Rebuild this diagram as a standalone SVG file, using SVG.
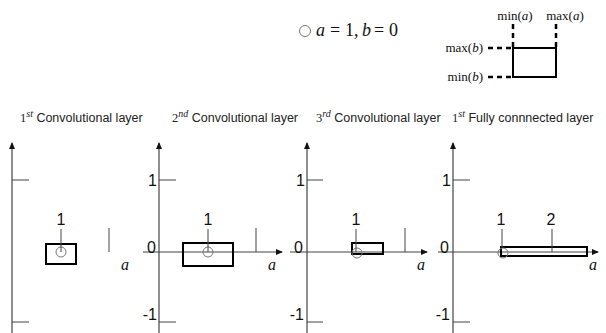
<svg xmlns="http://www.w3.org/2000/svg" width="606" height="333" viewBox="0 0 606 333">
<style>
.ax{stroke:#444;stroke-width:1.2;fill:none}
.tk{stroke:#444;stroke-width:1;fill:none}
.bx{stroke:#000;stroke-width:2;fill:none}
.cir{stroke:#777;stroke-width:1;fill:none}
.ld{stroke:#444;stroke-width:1;fill:none}
.dash{stroke:#000;stroke-width:2.5;stroke-dasharray:5 4;fill:none}
.num{font-family:"Liberation Sans",Arial,sans-serif;font-size:16px;fill:#111}
.ttl{font-family:"Liberation Sans",Arial,sans-serif;font-size:12.5px;fill:#222}
.sup{font-family:"Liberation Serif",serif;font-style:italic;font-size:10px}
.math{font-family:"Liberation Serif",serif;font-size:16px;fill:#111}
.big{font-size:18px}
.it{font-style:italic}
.lg{font-family:"Liberation Serif",serif;font-size:13px;fill:#111}
</style>
<defs>
<marker id="arr" markerWidth="8" markerHeight="8" refX="6" refY="3" orient="auto" markerUnits="userSpaceOnUse">
<path d="M0,0 L7,3 L0,6 Z" fill="#111"/>
</marker>
</defs>

<g id="legend">
<circle cx="305" cy="31" r="5.5" class="cir" stroke="#555"/>
<text class="math big" y="36"><tspan x="316" class="it">a</tspan><tspan x="330">=</tspan><tspan x="345">1,</tspan><tspan x="362" class="it">b</tspan><tspan x="374">=</tspan><tspan x="389">0</tspan></text>
<rect x="513" y="48" width="43" height="29" class="bx"/>
<path class="dash" d="M513,24 V48 M556,24 V48 M488,48 H513 M488,77 H513"/>
<text class="lg" x="515" y="20" text-anchor="middle">min(<tspan class="it">a</tspan>)</text>
<text class="lg" x="565" y="20" text-anchor="middle">max(<tspan class="it">a</tspan>)</text>
<text class="lg" x="483" y="52" text-anchor="end">max(<tspan class="it">b</tspan>)</text>
<text class="lg" x="483" y="81" text-anchor="end">min(<tspan class="it">b</tspan>)</text>
</g>

<g id="titles">
<text class="ttl" x="20" y="122"><tspan font-family="Liberation Serif">1</tspan><tspan class="sup" dy="-5">st</tspan><tspan dy="5"> Convolutional layer</tspan></text>
<text class="ttl" x="172" y="122"><tspan font-family="Liberation Serif">2</tspan><tspan class="sup" dy="-5">nd</tspan><tspan dy="5"> Convolutional layer</tspan></text>
<text class="ttl" x="316" y="122"><tspan font-family="Liberation Serif">3</tspan><tspan class="sup" dy="-5">rd</tspan><tspan dy="5"> Convolutional layer</tspan></text>
<text class="ttl" x="452" y="122"><tspan font-family="Liberation Serif">1</tspan><tspan class="sup" dy="-5">st</tspan><tspan dy="5"> Fully connnected layer</tspan></text>
</g>

<g id="panel1">
<line x1="12" y1="333" x2="12" y2="143" class="ax" marker-end="url(#arr)"/>
<path class="tk" d="M12,180 H29 M12,322 H29"/>
<rect x="46" y="244" width="30" height="20" class="bx"/>
<circle cx="61" cy="252" r="5" class="cir"/>
<line x1="61" y1="229" x2="61" y2="252" class="ld"/>
<text class="num" x="61" y="225" text-anchor="middle">1</text>
<line x1="109" y1="228" x2="109" y2="252" class="ld"/>
<text class="math it" x="121" y="270">a</text>
</g>

<g id="panel2">
<line x1="159" y1="333" x2="159" y2="143" class="ax" marker-end="url(#arr)"/>
<line x1="143" y1="252" x2="282" y2="252" class="ax" marker-end="url(#arr)"/>
<path class="tk" d="M159,180 H176 M159,322 H176"/>
<text class="num" x="157" y="186" text-anchor="end">1</text>
<text class="num" x="156" y="253" text-anchor="end">0</text>
<text class="num" x="157" y="320" text-anchor="end">-1</text>
<rect x="183" y="243" width="50" height="23" class="bx"/>
<circle cx="208" cy="252" r="5" class="cir"/>
<line x1="208" y1="229" x2="208" y2="252" class="ld"/>
<text class="num" x="208" y="225" text-anchor="middle">1</text>
<line x1="256" y1="228" x2="256" y2="252" class="ld"/>
<text class="math it" x="268" y="270">a</text>
</g>

<g id="panel3">
<line x1="307" y1="333" x2="307" y2="143" class="ax" marker-end="url(#arr)"/>
<line x1="290" y1="252" x2="427" y2="252" class="ax" marker-end="url(#arr)"/>
<path class="tk" d="M307,180 H323 M307,322 H323"/>
<text class="num" x="305" y="186" text-anchor="end">1</text>
<text class="num" x="303" y="253" text-anchor="end">0</text>
<text class="num" x="304" y="320" text-anchor="end">-1</text>
<rect x="352" y="243" width="31" height="11" class="bx"/>
<circle cx="357" cy="253" r="5" class="cir"/>
<line x1="356" y1="229" x2="356" y2="252" class="ld"/>
<text class="num" x="356" y="225" text-anchor="middle">1</text>
<line x1="405" y1="228" x2="405" y2="252" class="ld"/>
<text class="math it" x="417" y="270">a</text>
</g>

<g id="panel4">
<line x1="453" y1="333" x2="453" y2="143" class="ax" marker-end="url(#arr)"/>
<line x1="438" y1="252" x2="598" y2="252" class="ax" marker-end="url(#arr)"/>
<path class="tk" d="M453,180 H470 M453,322 H470"/>
<text class="num" x="451" y="186" text-anchor="end">1</text>
<text class="num" x="449" y="253" text-anchor="end">0</text>
<text class="num" x="450" y="320" text-anchor="end">-1</text>
<rect x="501" y="247" width="86" height="9" class="bx"/>
<circle cx="503" cy="253" r="5" class="cir"/>
<line x1="502" y1="229" x2="502" y2="247" class="ld"/>
<text class="num" x="501" y="225" text-anchor="middle">1</text>
<line x1="552" y1="229" x2="552" y2="252" class="ld"/>
<text class="num" x="551" y="225" text-anchor="middle">2</text>
<text class="math it" x="589" y="270">a</text>
</g>
</svg>
